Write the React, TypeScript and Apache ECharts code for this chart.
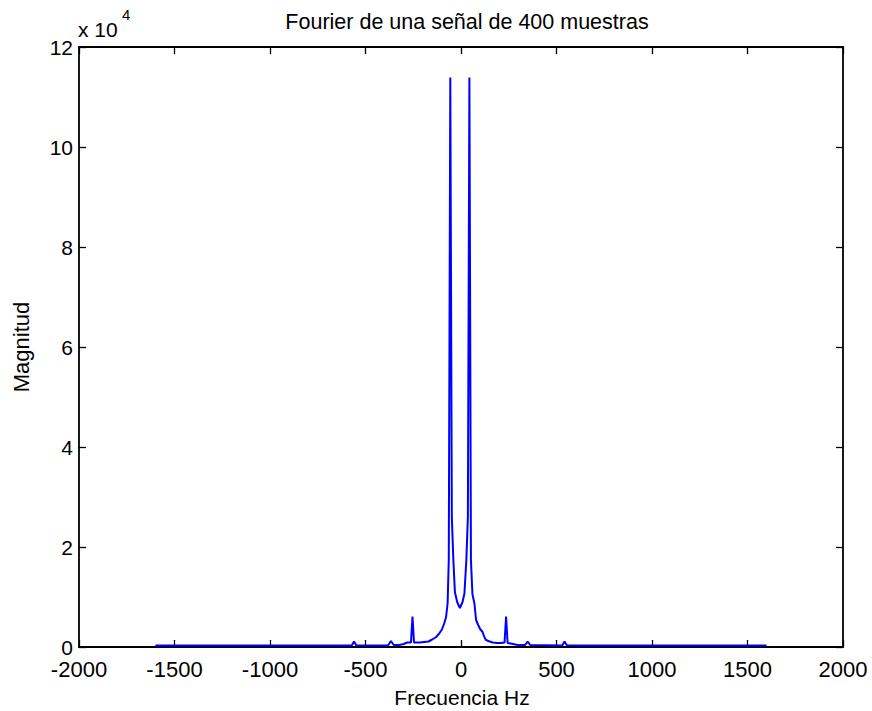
import React, { useEffect, useRef } from "react";
import * as echarts from "echarts";

const freqHz = [
  -1600, -572, -560, -548, -382, -367, -352, -324, -300, -282, -262, -254, -246, -236, -215, -193,
  -170, -151, -130, -114, -100, -88, -78, -70, -64, -56, -48, -40, -32, -20, -6, 8, 18, 28, 36, 44,
  52, 60, 70, 79, 90, 100, 113, 122, 131, 150, 166, 190, 210, 228, 236, 244, 260, 297, 336, 349,
  362, 530, 542, 555, 1600,
];
const magnitude = [
  300, 300, 1100, 300, 300, 1200, 400, 400, 600, 900, 900, 6100, 900, 900, 900, 1000,
  1100, 1500, 2000, 2700, 3500, 4700, 6000, 8800, 17400, 113900, 26000, 17400, 11000, 9000, 7800, 9000, 10700, 17400, 26000, 113900,
  17400, 10500, 8800, 5400, 4400, 3600, 3000, 2000, 1400, 1100, 900, 800, 800, 900, 6100, 800, 700, 400, 400, 1100,
  400, 300, 1100, 300, 300,
];

const titleText = "Fourier de una señal de 400 muestras";
const xLabel = "Frecuencia Hz";
const yLabel = "Magnitud";

const FONT = "'Liberation Sans', Arial, Helvetica, sans-serif";

export default function App() {
  const ref = useRef<HTMLDivElement>(null);
  useEffect(() => {
    if (!ref.current) return;
    const chart = echarts.init(ref.current, undefined, { renderer: "svg" });
    const axisLine = { show: true, onZero: false, lineStyle: { color: "#000", width: 1.8 } };
    const tick = { show: true, inside: true, length: 7, lineStyle: { color: "#000", width: 1.3 } };
    const xBase = { type: "value", min: -2000, max: 2000, interval: 500, splitLine: { show: false } };
    const yBase = { type: "value", min: 0, max: 120000, interval: 20000, splitLine: { show: false } };
    chart.setOption({
      animation: false,
      backgroundColor: "#fff",
      grid: { left: 79, right: 29, top: 47, bottom: 64, show: false },
      xAxis: [
        {
          ...xBase,
          position: "bottom",
          axisLine,
          axisTick: tick,
          axisLabel: {
            color: "#000",
            fontSize: 22,
            fontFamily: FONT,
            margin: 11,
            formatter: (v: number) => String(v),
          },
        },
        {
          ...xBase,
          position: "top",
          axisLine,
          axisTick: tick,
          axisLabel: { show: false },
        },
      ],
      yAxis: [
        {
          ...yBase,
          position: "left",
          axisLine,
          axisTick: tick,
          axisLabel: {
            color: "#000",
            fontSize: 21,
            fontFamily: FONT,
            margin: 6,
            formatter: (v: number) => String(v / 10000),
          },
        },
        {
          ...yBase,
          position: "right",
          axisLine,
          axisTick: tick,
          axisLabel: { show: false },
        },
      ],
      series: [
        {
          type: "line",
          xAxisIndex: 0,
          yAxisIndex: 0,
          data: freqHz.map((f, i) => [f, magnitude[i]]),
          showSymbol: false,
          symbol: "none",
          lineStyle: { color: "#0000ff", width: 2 },
          itemStyle: { color: "#0000ff" },
        },
      ],
      graphic: [
        {
          type: "text",
          x: 467,
          y: 22,
          style: { text: titleText, fill: "#000", font: `21.5px ${FONT}`, align: "center", verticalAlign: "middle" },
        },
        {
          type: "text",
          x: 462,
          y: 697,
          style: { text: xLabel, fill: "#000", font: `21px ${FONT}`, align: "center", verticalAlign: "middle" },
        },
        {
          type: "text",
          x: 21,
          y: 347,
          rotation: Math.PI / 2,
          style: { text: yLabel, fill: "#000", font: `22px ${FONT}`, align: "center", verticalAlign: "middle" },
        },
        {
          type: "text",
          x: 78,
          y: 29,
          style: { text: "x 10", fill: "#000", font: `21px ${FONT}`, align: "left", verticalAlign: "middle" },
        },
        {
          type: "text",
          x: 122,
          y: 14,
          style: { text: "4", fill: "#000", font: `15px ${FONT}`, align: "left", verticalAlign: "middle" },
        },
      ],
    });
    return () => chart.dispose();
  }, []);
  return <div ref={ref} style={{ position: "absolute", left: 0, top: 0, width: 872, height: 711 }} />;
}
